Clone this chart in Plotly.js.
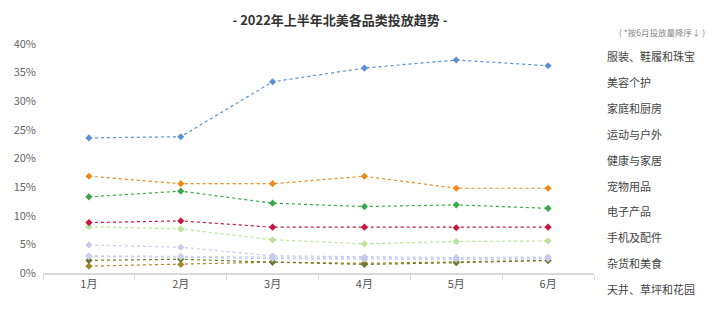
<!DOCTYPE html>
<html>
<head>
<meta charset="utf-8">
<script src="https://cdn.plot.ly/plotly-3.0.1.min.js"></script>
<style>html,body{margin:0;padding:0;background:#fff;}#chart{width:720px;height:315px;}</style>
</head>
<body>
<div id="chart"></div>
<script>
const months = ['1月','2月','3月','4月','5月','6月'];
const categories = ['服装、鞋履和珠宝','美容个护','家庭和厨房','运动与户外','健康与家居','宠物用品','电子产品','手机及配件','杂货和美食','天井、草坪和花园'];
const apparel   = [23.6, 23.8, 33.4, 35.8, 37.2, 36.2];
const beauty    = [16.9, 15.6, 15.6, 16.9, 14.8, 14.8];
const home      = [13.3, 14.3, 12.2, 11.6, 11.9, 11.3];
const sports    = [8.8, 9.1, 8.0, 8.0, 7.9, 8.0];
const health    = [8.1, 7.7, 5.8, 5.1, 5.5, 5.6];
const pets      = [4.9, 4.5, 3.0, 2.8, 2.7, 2.8];
const electronics = [3.0, 2.9, 2.8, 2.6, 2.6, 2.7];
const phones    = [2.9, 2.8, 2.5, 2.4, 2.4, 2.5];
const grocery   = [2.2, 2.4, 1.9, 1.5, 1.8, 2.2];
const patio     = [1.2, 1.5, 1.9, 1.7, 1.9, 2.2];
const yTicks = [0,5,10,15,20,25,30,35,40];
const yTickText = ['0%','5%','10%','15%','20%','25%','30%','35%','40%'];

const series = [apparel, beauty, home, sports, health, pets, electronics, phones, grocery, patio];
const colors = ['#5b8fd6','#ee8a1c','#3aa84a','#c8163e','#b9e29a','#c9c9ef','#cdd3ea','#b4c3e4','#6b7a2c','#a58a2c'];

const traces = series.map((vals, i) => ({
  x: months, y: vals, name: categories[i], type: 'scatter', mode: 'lines+markers',
  line: {color: colors[i], width: 1.2, dash: 'dot'},
  marker: {symbol: 'diamond', size: 5.5, color: colors[i]},
  showlegend: false
})).reverse();

const annotations = categories.map((c, i) => ({
  text: c, xref: 'paper', yref: 'paper', x: (605 - 43) / 551, xanchor: 'left',
  y: (273 - (56 + i * 25.9)) / 229, yanchor: 'middle', showarrow: false,
  font: {family: 'Noto Sans CJK SC', size: 11, color: '#444'}
}));
annotations.push({
  text: '( *按6月投放量降序↓ )', xref: 'paper', yref: 'paper', x: (707 - 43) / 551, xanchor: 'right',
  y: (273 - 32) / 229, yanchor: 'middle', showarrow: false,
  font: {family: 'Noto Sans CJK SC', size: 8.5, color: '#888'}
});

const layout = {
  width: 720, height: 315,
  margin: {l: 43, r: 126, t: 44, b: 42},
  paper_bgcolor: '#fff', plot_bgcolor: '#fff',
  font: {family: 'Noto Sans CJK SC', color: '#555'},
  title: {text: '<b>- 2022年上半年北美各品类投放趋势 -</b>', x: 340/720, xanchor: 'center', y: 0.935, yanchor: 'middle',
          font: {family: 'Noto Sans CJK SC', size: 13, color: '#333'}},
  xaxis: {type: 'category', range: [-0.5, 5.5], tickson: 'boundaries', ticks: 'outside', ticklen: 5,
          tickcolor: '#d9d9d9', showline: true, linecolor: '#d9d9d9', linewidth: 1.5,
          showgrid: false, zeroline: false, fixedrange: true,
          tickfont: {family: 'Noto Sans CJK SC', size: 11, color: '#555'}},
  yaxis: {range: [0, 40], tickvals: yTicks, ticktext: yTickText, showgrid: false, zeroline: false,
          showline: false, ticks: '', ticklabelstandoff: 6,
          tickfont: {family: 'Noto Sans CJK SC', size: 11, color: '#666'}},
  annotations: annotations
};

Plotly.newPlot('chart', traces, layout, {displayModeBar: false, staticPlot: true});
</script>
</body>
</html>
